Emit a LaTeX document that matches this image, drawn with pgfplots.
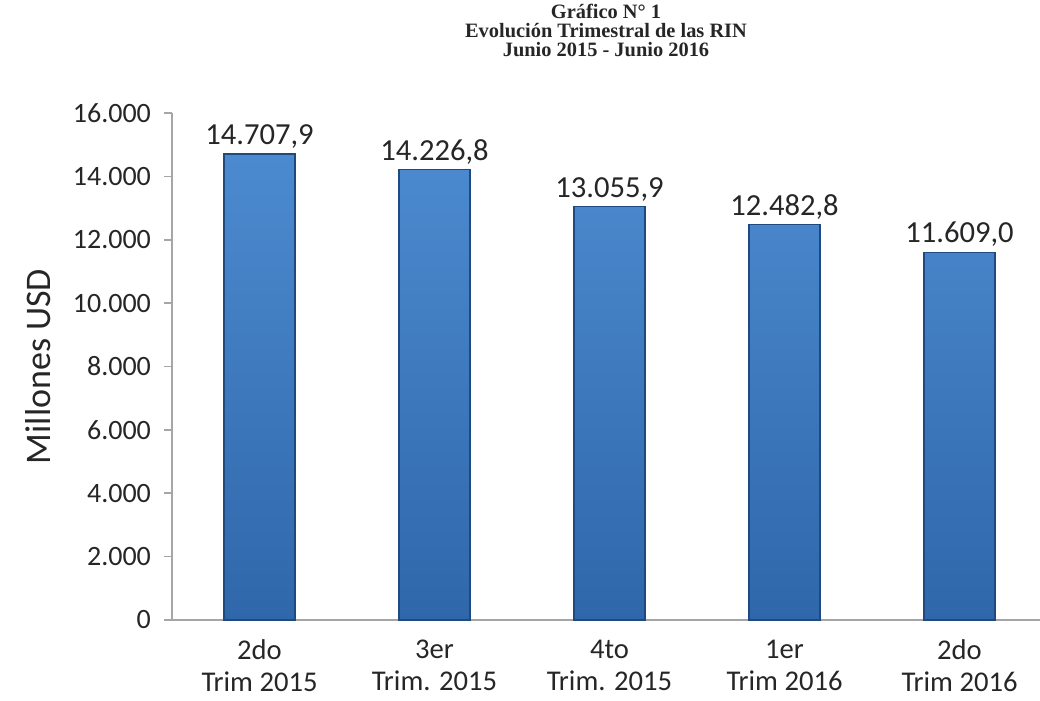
\documentclass[border=0pt]{standalone}
\usepackage{fontspec}
\setmainfont{Carlito}
\newfontfamily\titlefont{Liberation Serif}
\usepackage{pgfplots}
\pgfplotsset{compat=1.18}

\definecolor{axisgray}{HTML}{A6A6A6}
\definecolor{txt}{HTML}{262626}
\definecolor{bartop}{HTML}{4C8ACF}
\definecolor{barbot}{HTML}{2F67AA}
\definecolor{baredge}{HTML}{1F4A80}

\begin{document}
\begin{tikzpicture}
\useasboundingbox (-86pt,-40.5pt) rectangle (434pt,310pt);
\node[font=\titlefont\bfseries\fontsize{10.2}{9.6}\selectfont, align=center, anchor=north, text=txt]
  at (217pt,311.5pt) {Gráfico N° 1\\Evolución Trimestral de las RIN\\Junio 2015 - Junio 2016};
\begin{axis}[
  scale only axis,
  width=434pt, height=253.5pt,
  at={(0,0)}, anchor=south west,
  xmin=-0.5, xmax=4.46,
  ymin=0, ymax=16000,
  axis lines*=left,
  axis line style={axisgray, line width=0.8pt},
  ybar, bar width=35.5pt,
  ytick={0,2000,...,16000},
  scaled y ticks=false,
  yticklabel={\pgfmathprintnumber[fixed, 1000 sep={.}, assume math mode=true]{\tick}},
  xtick={0,1,2,3,4},
  xticklabels={{2do\\Trim 2015},{3er\\Trim. 2015},{4to\\Trim. 2015},{1er\\Trim 2016},{2do\\Trim 2016}},
  xticklabel style={align=center, font=\fontsize{14.3}{16}\selectfont, text=txt, yshift=-2.5pt},
  yticklabel style={font=\fontsize{14}{16}\selectfont, text=txt, xshift=-3pt},
  major x tick style={draw=none},
  extra x ticks={-0.5,0.5,1.5,2.5,3.5},
  extra x tick labels={},
  extra x tick style={tick style={axisgray, line width=0.8pt}, major tick length=4pt},
  tick align=outside,
  major tick length=4pt,
  tick style={axisgray, line width=0.8pt},
  ylabel={Millones USD},
  ylabel style={font=\fontsize{18}{20}\selectfont, text=txt},
  ylabel shift=4pt,
  nodes near coords,
  nodes near coords style={font=\fontsize{15.3}{17}\selectfont, text=txt, anchor=south, yshift=-1pt,
    /pgf/number format/.cd, fixed, precision=1, zerofill, use comma, 1000 sep={.}, assume math mode=true},
  clip=false,
]
\addplot[draw=baredge, line width=0.6pt, top color=bartop, bottom color=barbot] coordinates {
  (0,14707.9) (1,14226.8) (2,13055.9) (3,12482.8) (4,11609.0)
};
\end{axis}
\end{tikzpicture}
\end{document}
